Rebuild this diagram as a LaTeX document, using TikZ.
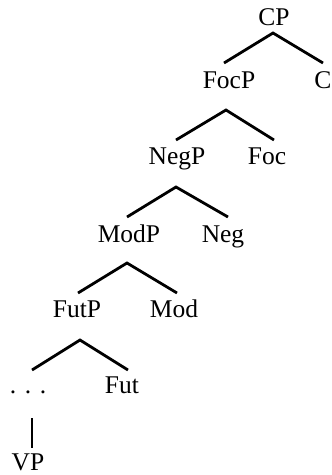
\documentclass[tikz,border=0pt]{standalone}
\usepackage{fontspec}
\setmainfont{Liberation Serif}
\begin{document}
\begin{tikzpicture}[x=1pt,y=-1pt,
  lab/.style={anchor=base,inner sep=0pt,font=\fontsize{25.5}{28}\selectfont},
  br/.style={line width=2.8pt}]
\useasboundingbox (0,0) rectangle (332,475);
% labels
\node[lab] (CP) at (274,25) {CP};
\node[lab] (FocP) at (229,88) {FocP};
\node[lab] (C) at (323,88) {C};
\node[lab] (NegP) at (177,164) {NegP};
\node[lab] (Foc) at (267,164) {Foc};
\node[lab] (ModP) at (129,242) {ModP};
\node[lab] (Neg) at (223,242) {Neg};
\node[lab] (FutP) at (77,317) {FutP};
\node[lab] (Mod) at (174,317) {Mod};
\node[lab] (dots) at (28,393) {.\hspace{0.34em}.\hspace{0.34em}.};
\node[lab] (Fut) at (122,393) {Fut};
\node[lab] (VP) at (28,470) {VP};
% branch points
\coordinate (aCP) at (273,33);
\coordinate (lCP) at (224,63);
\coordinate (rCP) at (323,63);
\coordinate (aFocP) at (226,110);
\coordinate (lFocP) at (176,140);
\coordinate (rFocP) at (274,140);
\coordinate (aNegP) at (176,187);
\coordinate (lNegP) at (127,217);
\coordinate (rNegP) at (228,217);
\coordinate (aModP) at (127,263);
\coordinate (lModP) at (78,293);
\coordinate (rModP) at (177,293);
\coordinate (aFutP) at (80,340);
\coordinate (lFutP) at (32,370);
\coordinate (rFutP) at (128,370);
\coordinate (tdots) at (32,418);
\coordinate (bdots) at (32,448);
% connectors
\draw[br] (lCP) -- (aCP) -- (rCP);
\draw[br] (lFocP) -- (aFocP) -- (rFocP);
\draw[br] (lNegP) -- (aNegP) -- (rNegP);
\draw[br] (lModP) -- (aModP) -- (rModP);
\draw[br] (lFutP) -- (aFutP) -- (rFutP);
\draw[br] (tdots) -- (bdots);
\end{tikzpicture}
\end{document}
